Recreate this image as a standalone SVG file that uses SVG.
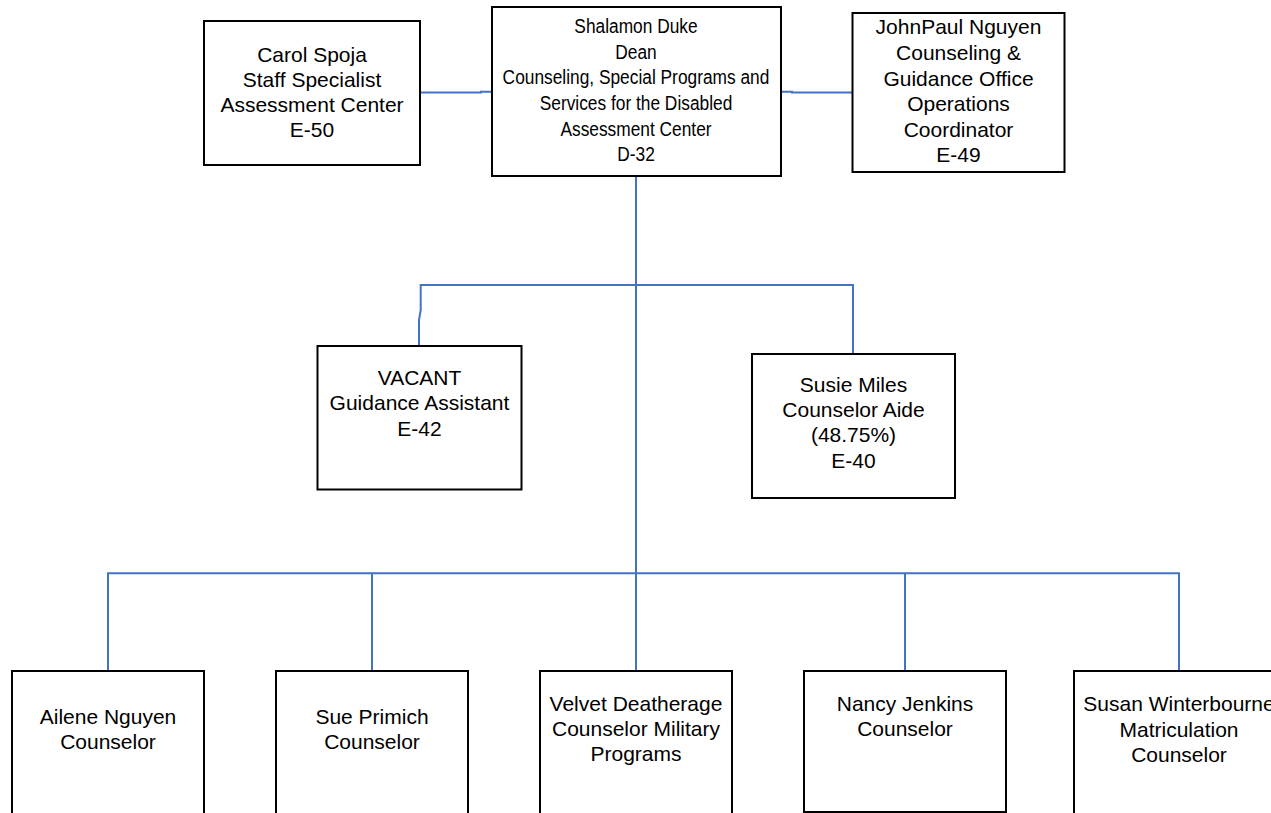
<svg xmlns="http://www.w3.org/2000/svg" width="1271" height="813" viewBox="0 0 1271 813">
<style>
.box{fill:#ffffff;stroke:#000000;stroke-width:2}
.t{font-family:"Liberation Sans",Arial,sans-serif;font-size:21px;fill:#000000;text-anchor:middle}
.c{fill:none;stroke:#4472C4;stroke-width:2}
</style>
<rect width="1271" height="813" fill="#ffffff"/>
<g id="connectors">
<path class="c" d="M420 92.5 H481 V91.7 H492"/>
<path class="c" d="M781 91.7 H792 V92.5 H852"/>
<path class="c" d="M636 176 V670"/>
<path class="c" d="M419 345 V320 L420.7 310 V285 H853 V354"/>
<path class="c" d="M108 670 V573.3 H1179 V670"/>
<path class="c" d="M372 573.3 V670"/>
<path class="c" d="M905 573.3 V670"/>
</g>
<g id="carol">
<rect class="box" x="204" y="21" width="216" height="144"/>
<text class="t" x="312" y="62">Carol Spoja</text>
<text class="t" x="312" y="87">Staff Specialist</text>
<text class="t" x="312" y="112">Assessment Center</text>
<text class="t" x="312" y="137">E-50</text>
</g>
<g id="dean">
<rect class="box" x="492" y="7" width="289" height="169"/>
<g transform="matrix(0.825 0 0 1 636 0)">
<text class="t" x="0" y="33.5">Shalamon Duke</text>
<text class="t" x="0" y="59">Dean</text>
<text class="t" x="0" y="84.5">Counseling, Special Programs and</text>
<text class="t" x="0" y="110">Services for the Disabled</text>
<text class="t" x="0" y="136">Assessment Center</text>
<text class="t" x="0" y="161.5">D-32</text>
</g>
</g>
<g id="johnpaul">
<rect class="box" x="852.5" y="13" width="212" height="159"/>
<text class="t" x="958.5" y="33.5">JohnPaul Nguyen</text>
<text class="t" x="958.5" y="59.5">Counseling &amp;</text>
<text class="t" x="958.5" y="86">Guidance Office</text>
<text class="t" x="958.5" y="110.5">Operations</text>
<text class="t" x="958.5" y="136.5">Coordinator</text>
<text class="t" x="958.5" y="161.5">E-49</text>
</g>
<g id="vacant">
<rect class="box" x="317.5" y="346" width="204" height="143.5"/>
<text class="t" x="419.5" y="385">VACANT</text>
<text class="t" x="419.5" y="410">Guidance Assistant</text>
<text class="t" x="419.5" y="435.5">E-42</text>
</g>
<g id="susie">
<rect class="box" x="752" y="354" width="203" height="144"/>
<text class="t" x="853.5" y="391.5">Susie Miles</text>
<text class="t" x="853.5" y="416.5">Counselor Aide</text>
<text class="t" x="853.5" y="442">(48.75%)</text>
<text class="t" x="853.5" y="468">E-40</text>
</g>
<g id="ailene">
<rect class="box" x="12" y="671" width="192" height="160"/>
<text class="t" x="108" y="724">Ailene Nguyen</text>
<text class="t" x="108" y="749">Counselor</text>
</g>
<g id="sue">
<rect class="box" x="276" y="671" width="192" height="160"/>
<text class="t" x="372" y="724">Sue Primich</text>
<text class="t" x="372" y="749">Counselor</text>
</g>
<g id="velvet">
<rect class="box" x="540" y="671" width="192" height="160"/>
<text class="t" x="636" y="710.5">Velvet Deatherage</text>
<text class="t" x="636" y="736">Counselor Military</text>
<text class="t" x="636" y="761">Programs</text>
</g>
<g id="nancy">
<rect class="box" x="804" y="671" width="202" height="141"/>
<text class="t" x="905" y="710.5">Nancy Jenkins</text>
<text class="t" x="905" y="736">Counselor</text>
</g>
<g id="susan">
<rect class="box" x="1074" y="671" width="210" height="160"/>
<text class="t" x="1179" y="711">Susan Winterbourne</text>
<text class="t" x="1179" y="737">Matriculation</text>
<text class="t" x="1179" y="762">Counselor</text>
</g>
</svg>
